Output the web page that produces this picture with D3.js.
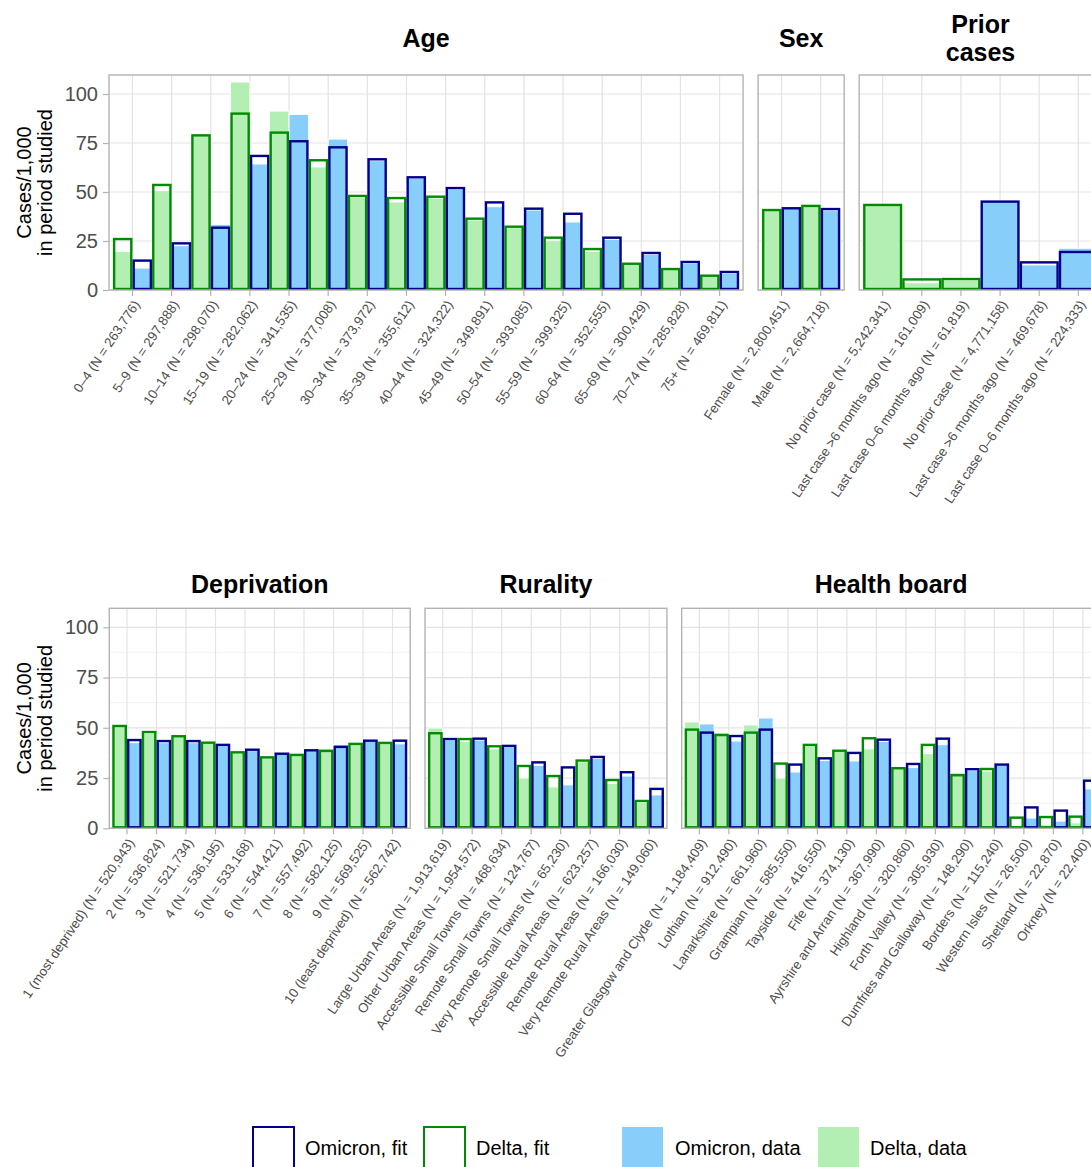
<!DOCTYPE html>
<html>
<head>
<meta charset="utf-8">
<script src="https://cdn.jsdelivr.net/npm/d3@7"></script>
<style>
  html, body { margin: 0; padding: 0; background: #fff; }
  svg { display: block; font-family: "Liberation Sans", Arial, Helvetica, sans-serif; }
</style>
</head>
<body>
<svg id="chart" width="1091" height="1167"></svg>
<script>
// ---- Data: cases per 1,000 in the period studied ----

// Age
const ageLabels = ["0–4 (N = 263,776)", "5–9 (N = 297,888)", "10–14 (N = 298,070)", "15–19 (N = 282,062)",
  "20–24 (N = 341,535)", "25–29 (N = 377,008)", "30–34 (N = 373,972)", "35–39 (N = 355,612)",
  "40–44 (N = 324,322)", "45–49 (N = 349,891)", "50–54 (N = 393,085)", "55–59 (N = 399,325)",
  "60–64 (N = 352,555)", "65–69 (N = 300,429)", "70–74 (N = 285,828)", "75+ (N = 469,811)"];
const ageDeltaFit = [26.0, 53.6, 78.9, 90.0, 80.3, 66.2, 48.0, 46.9, 47.6, 36.4, 32.3, 26.7, 20.9, 13.4, 10.7, 7.3];
const ageDeltaData = [19.6, 50.7, 78.9, 106.1, 91.3, 62.8, 47.3, 44.9, 46.9, 35.7, 31.8, 25.2, 19.7, 13.2, 10.5, 7.8];
const ageOmicronFit = [15.0, 23.8, 31.8, 68.4, 75.9, 72.8, 66.7, 57.5, 52.0, 44.7, 41.5, 38.9, 26.7, 18.9, 14.3, 9.2];
const ageOmicronData = [11.2, 22.6, 33.5, 64.3, 89.6, 77.0, 66.0, 57.0, 51.4, 42.5, 40.8, 34.7, 25.9, 18.2, 13.6, 8.5];

// Sex
const sexLabels = ["Female (N = 2,800,451)", "Male (N = 2,664,718)"];
const sexDeltaFit = [40.8, 42.9];
const sexDeltaData = [40.9, 43.5];
const sexOmicronFit = [41.7, 41.3];
const sexOmicronData = [42.2, 40.5];

// Prior cases (first three categories are Delta only, last three Omicron only)
const priorLabels = ["No prior case (N = 5,242,341)", "Last case >6 months ago (N = 161,009)",
  "Last case 0–6 months ago (N = 61,819)", "No prior case (N = 4,771,158)",
  "Last case >6 months ago (N = 469,678)", "Last case 0–6 months ago (N = 224,333)"];
const priorDeltaFit = [43.4, 5.4, 5.6, null, null, null];
const priorDeltaData = [43.6, 3.7, 5.1, null, null, null];
const priorOmicronFit = [null, null, null, 45.1, 14.1, 19.4];
const priorOmicronData = [null, null, null, 45.6, 12.8, 21.3];

// Deprivation
const depLabels = ["1 (most deprived) (N = 520,943)", "2 (N = 536,824)", "3 (N = 521,734)", "4 (N = 536,195)",
  "5 (N = 533,168)", "6 (N = 544,421)", "7 (N = 557,492)", "8 (N = 582,125)", "9 (N = 569,525)",
  "10 (least deprived) (N = 562,742)"];
const depDeltaFit = [50.9, 47.9, 45.8, 42.6, 37.8, 35.3, 36.5, 38.5, 42.0, 42.5];
const depDeltaData = [50.6, 47.3, 46.1, 42.4, 37.6, 35.7, 36.3, 39.6, 42.0, 42.3];
const depOmicronFit = [43.9, 43.4, 43.4, 41.5, 39.1, 37.1, 38.8, 40.5, 43.6, 43.6];
const depOmicronData = [42.6, 42.6, 42.6, 41.1, 38.6, 36.9, 39.6, 41.6, 43.8, 42.0];

// Rurality
const rurLabels = ["Large Urban Areas (N = 1,913,619)", "Other Urban Areas (N = 1,954,572)",
  "Accessible Small Towns (N = 468,634)", "Remote Small Towns (N = 124,767)",
  "Very Remote Small Towns (N = 65,230)", "Accessible Rural Areas (N = 623,257)",
  "Remote Rural Areas (N = 166,030)", "Very Remote Rural Areas (N = 149,060)"];
const rurDeltaFit = [47.3, 44.4, 40.8, 31.0, 26.0, 33.7, 24.0, 13.6];
const rurDeltaData = [49.9, 43.3, 39.5, 25.0, 20.6, 33.0, 22.4, 12.8];
const rurOmicronFit = [44.4, 44.6, 41.0, 32.8, 30.3, 35.5, 27.9, 19.6];
const rurOmicronData = [43.8, 43.9, 40.5, 31.3, 21.6, 34.7, 26.0, 16.6];

// Health board
const hbLabels = ["Greater Glasgow and Clyde (N = 1,184,409)", "Lothian (N = 912,490)",
  "Lanarkshire (N = 661,960)", "Grampian (N = 585,550)", "Tayside (N = 416,550)", "Fife (N = 374,130)",
  "Ayrshire and Arran (N = 367,990)", "Highland (N = 320,860)", "Forth Valley (N = 305,930)",
  "Dumfries and Galloway (N = 148,290)", "Borders (N = 115,240)", "Western Isles (N = 26,500)",
  "Shetland (N = 22,870)", "Orkney (N = 22,400)"];
const hbDeltaFit = [49.1, 46.4, 47.6, 32.2, 41.5, 38.6, 44.8, 29.9, 41.5, 26.4, 29.5, 5.3, 5.6, 5.8];
const hbDeltaData = [52.9, 47.6, 51.4, 25.0, 41.1, 39.0, 39.5, 29.9, 37.1, 27.7, 28.5, 1.5, 1.7, 2.7];
const hbOmicronFit = [47.6, 45.9, 49.1, 31.7, 34.8, 37.5, 44.1, 32.0, 44.6, 29.4, 31.7, 10.4, 8.8, 23.7];
const hbOmicronData = [51.9, 43.4, 54.9, 28.0, 33.7, 33.5, 43.2, 30.2, 41.6, 28.7, 31.5, 5.1, 3.6, 19.6];

const yTicks = [0, 25, 50, 75, 100];
const yMinorTicks = [12.5, 37.5, 62.5, 87.5];
const yTitleLines = ["Cases/1,000", "in period studied"];
const legendLabels = ["Omicron, fit", "Delta, fit", "Omicron, data", "Delta, data"];

// ---- Styling ----
const COL = {
  omicronFit: "#00008B",
  deltaFit: "#008B00",
  omicronData: "#87CEFA",
  deltaData: "#B3EEB3",
  grid: "#E3E3E3",
  gridMinor: "#EEEEEE",
  border: "#B3B3B3",
  tickText: "#4D4D4D"
};
const LABEL_ANGLE = 56;

const rows = [
  {
    top: 75, bottom: 290, yMax: 109.7, left: 109, unit: 39.14, gap: 15, minor: false,
    titleBaseline: 47,
    panels: [
      { title: ["Age"], labels: ageLabels, dF: ageDeltaFit, dD: ageDeltaData, oF: ageOmicronFit, oD: ageOmicronData },
      { title: ["Sex"], labels: sexLabels, dF: sexDeltaFit, dD: sexDeltaData, oF: sexOmicronFit, oD: sexOmicronData },
      { title: ["Prior", "cases"], labels: priorLabels, dF: priorDeltaFit, dD: priorDeltaData, oF: priorOmicronFit, oD: priorOmicronData }
    ]
  },
  {
    top: 608.3, bottom: 828.3, yMax: 109.45, left: 109.3, unit: 29.5, gap: 14.8, minor: true,
    titleBaseline: 593,
    panels: [
      { title: ["Deprivation"], labels: depLabels, dF: depDeltaFit, dD: depDeltaData, oF: depOmicronFit, oD: depOmicronData },
      { title: ["Rurality"], labels: rurLabels, dF: rurDeltaFit, dD: rurDeltaData, oF: rurOmicronFit, oD: rurOmicronData },
      { title: ["Health board"], labels: hbLabels, dF: hbDeltaFit, dD: hbDeltaData, oF: hbOmicronFit, oD: hbOmicronData }
    ]
  }
];

const svg = d3.select("#chart");

rows.forEach((row, ri) => {
  const y = d3.scaleLinear().domain([0, row.yMax]).range([row.bottom, row.top]);
  let x0 = row.left;

  row.panels.forEach((p, pi) => {
    const n = p.labels.length;
    const width = (n + 0.2) * row.unit;
    const x = d3.scaleBand().domain(d3.range(n)).range([x0, x0 + width])
      .paddingInner(0).paddingOuter(0.1);
    const g = svg.append("g");

    // clip for panel contents
    const clipId = `clip-${ri}-${pi}`;
    svg.append("clipPath").attr("id", clipId)
      .append("rect").attr("x", x0).attr("y", row.top).attr("width", width).attr("height", row.bottom - row.top);

    // grid
    const grid = g.append("g");
    if (row.minor) {
      grid.selectAll("line.minor").data(yMinorTicks).join("line")
        .attr("x1", x0).attr("x2", x0 + width)
        .attr("y1", d => y(d)).attr("y2", d => y(d))
        .attr("stroke", COL.gridMinor).attr("stroke-width", 0.8);
    }
    grid.selectAll("line.major").data(yTicks).join("line")
      .attr("x1", x0).attr("x2", x0 + width)
      .attr("y1", d => y(d)).attr("y2", d => y(d))
      .attr("stroke", COL.grid).attr("stroke-width", 1.2);
    grid.selectAll("line.vert").data(d3.range(n)).join("line")
      .attr("x1", d => x(d) + x.bandwidth() / 2).attr("x2", d => x(d) + x.bandwidth() / 2)
      .attr("y1", row.top).attr("y2", row.bottom)
      .attr("stroke", COL.grid).attr("stroke-width", 1.2);

    // bars: per category, dodge Delta (left) and Omicron (right) when both present
    const cells = d3.range(n).map(i => {
      const both = p.dF[i] != null && p.oF[i] != null;
      const out = [];
      const bw = x.bandwidth();
      if (p.dF[i] != null) out.push({ series: "delta", x: x(i), w: both ? bw / 2 : bw, fit: p.dF[i], data: p.dD[i] });
      if (p.oF[i] != null) out.push({ series: "omicron", x: both ? x(i) + bw / 2 : x(i), w: both ? bw / 2 : bw, fit: p.oF[i], data: p.oD[i] });
      return out;
    }).flat();

    const bars = g.append("g").attr("clip-path", `url(#${clipId})`);
    bars.selectAll("rect.data").data(cells).join("rect")
      .attr("x", d => d.x).attr("width", d => d.w)
      .attr("y", d => y(d.data)).attr("height", d => y(0) - y(d.data))
      .attr("fill", d => d.series === "delta" ? COL.deltaData : COL.omicronData)
      .attr("stroke", "#ffffff").attr("stroke-width", 1);
    bars.selectAll("rect.fit").data(cells).join("rect")
      .attr("x", d => d.x + 1.2).attr("width", d => d.w - 2.4)
      .attr("y", d => y(d.fit)).attr("height", d => y(0) - y(d.fit) - 1)
      .attr("fill", "none")
      .attr("stroke", d => d.series === "delta" ? COL.deltaFit : COL.omicronFit)
      .attr("stroke-width", 2.4);

    // panel border
    g.append("rect").attr("x", x0).attr("y", row.top).attr("width", width).attr("height", row.bottom - row.top)
      .attr("fill", "none").attr("stroke", COL.border).attr("stroke-width", 1.4);

    // x axis with rotated category labels
    const xAxis = d3.axisBottom(x).tickSize(6).tickPadding(0).tickFormat(i => p.labels[i]);
    const ax = g.append("g").attr("transform", `translate(0,${row.bottom})`).call(xAxis);
    ax.select(".domain").remove();
    ax.selectAll(".tick line").attr("stroke", COL.border).attr("stroke-width", 1.2);
    ax.selectAll(".tick text")
      .attr("fill", COL.tickText)
      .style("font-size", "13.3px")
      .attr("text-anchor", "end")
      .attr("y", 0).attr("dy", "0.72em")
      .attr("transform", `translate(0,9) rotate(-${LABEL_ANGLE})`);

    // y axis on the first panel of each row
    if (pi === 0) {
      const yAxis = d3.axisLeft(y).tickValues(yTicks).tickSize(6).tickPadding(5);
      const ay = g.append("g").attr("transform", `translate(${x0},0)`).call(yAxis);
      ay.select(".domain").remove();
      ay.selectAll(".tick line").attr("stroke", COL.border).attr("stroke-width", 1.2);
      ay.selectAll(".tick text").attr("fill", COL.tickText).style("font-size", "20px");

      const cy = (row.top + row.bottom) / 2;
      const t = g.append("text").attr("transform", `translate(31,${cy}) rotate(-90)`)
        .attr("text-anchor", "middle").style("font-size", "20px").attr("fill", "#000");
      t.append("tspan").attr("x", 0).attr("y", 0).text(yTitleLines[0]);
      t.append("tspan").attr("x", 0).attr("y", 21).text(yTitleLines[1]);
    }

    // strip title
    const cx = x0 + width / 2;
    const lines = p.title;
    const tt = g.append("text").attr("text-anchor", "middle")
      .style("font-size", "25px").style("font-weight", "bold").attr("fill", "#000");
    if (lines.length === 1) {
      tt.append("tspan").attr("x", cx).attr("y", row.titleBaseline).text(lines[0]);
    } else {
      tt.append("tspan").attr("x", cx).attr("y", row.titleBaseline - 14).text(lines[0]);
      tt.append("tspan").attr("x", cx).attr("y", row.titleBaseline + 14).text(lines[1]);
    }

    x0 += width + row.gap;
  });
});

// ---- Legend ----
const legendItems = [
  { label: legendLabels[0], x: 252, tx: 305, fill: "#ffffff", stroke: COL.omicronFit },
  { label: legendLabels[1], x: 423, tx: 476, fill: "#ffffff", stroke: COL.deltaFit },
  { label: legendLabels[2], x: 621, tx: 675, fill: COL.omicronData, stroke: null },
  { label: legendLabels[3], x: 817, tx: 870, fill: COL.deltaData, stroke: null }
];
const lg = svg.append("g");
legendItems.forEach(it => {
  lg.append("rect").attr("x", it.x + 1).attr("y", 1127).attr("width", 41).attr("height", 42)
    .attr("fill", it.fill)
    .attr("stroke", it.stroke || "none").attr("stroke-width", 2);
  lg.append("text").attr("x", it.tx).attr("y", 1155).style("font-size", "20px").attr("fill", "#000").text(it.label);
});
</script>
</body>
</html>
